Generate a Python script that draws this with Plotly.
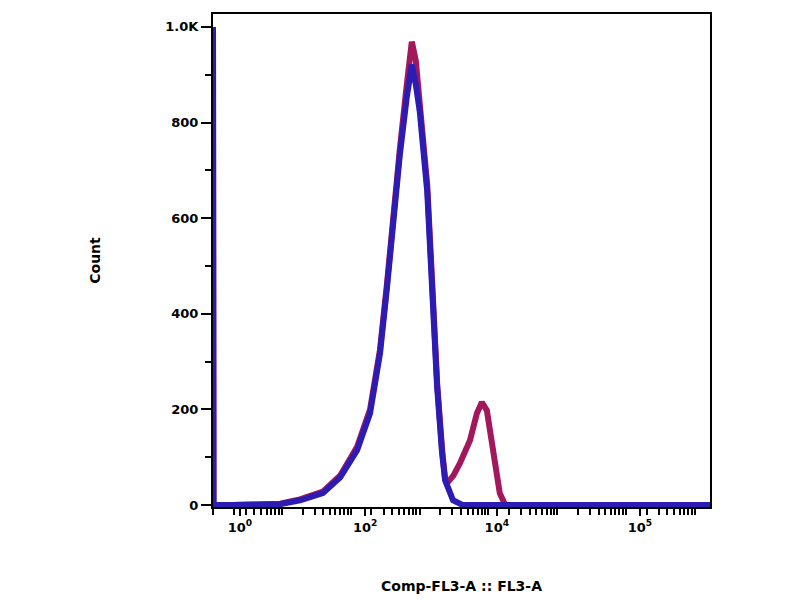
import numpy as np
import plotly.graph_objects as go

# Histogram data (display channel units 0-1000 on a log-like axis, counts)
red_channel = [0, 1, 40, 95, 135, 175, 221, 256, 290, 316, 336, 350, 362, 376, 390, 400, 408, 416, 431, 441, 451, 461, 467, 471, 484, 497, 517, 531, 541, 551, 563, 577, 588, 650, 1000]
red_count   = [1000, 0, 0, 0, 3, 12, 28, 62, 122, 200, 325, 462, 604, 745, 880, 969, 930, 840, 670, 465, 255, 115, 55, 46, 62, 88, 135, 192, 215, 198, 108, 25, 0, 0, 0]

blue_channel = [0, 1, 40, 95, 135, 175, 221, 256, 290, 316, 336, 350, 362, 376, 390, 400, 408, 416, 431, 441, 451, 461, 467, 483, 503, 600, 1000]
blue_count   = [1000, 0, 0, 0, 2, 10, 25, 58, 115, 192, 317, 454, 594, 733, 854, 921, 880, 823, 656, 454, 246, 108, 52, 10, 0, 0, 0]

x_label_pos = [54, 306, 571, 859]
x_label_text = ["10<sup>0</sup>", "10<sup>2</sup>", "10<sup>4</sup>", "10<sup>5</sup>"]
y_tick_vals = [0, 200, 400, 600, 800, 1000]
y_tick_text = ["0", "200", "400", "600", "800", "1.0K"]

# tick layout for log-like axis
decade = 138.5
minor_ticks = [k * decade + np.log10(m) * decade for k in range(8) for m in range(1, 10)
               if k * decade + np.log10(m) * decade < 1000]

fig = go.Figure()
fig.add_trace(go.Scatter(x=red_channel, y=red_count, mode="lines",
                         line=dict(color="#a3185c", width=6),
                         showlegend=False))
fig.add_trace(go.Scatter(x=blue_channel, y=blue_count, mode="lines",
                         line=dict(color="#2d1cb4", width=6),
                         showlegend=False))

font = dict(family="DejaVu Sans", size=13, color="black", weight="bold")
title_font = dict(family="DejaVu Sans", size=14, color="black", weight="bold")

fig.update_layout(
    width=800, height=600,
    margin=dict(l=205, r=98, t=4, b=101),
    paper_bgcolor="white", plot_bgcolor="white",
    xaxis=dict(range=[0, 1000], showgrid=False, zeroline=False,
               showline=True, linecolor="black", linewidth=2, mirror=True,
               tickmode="array", tickvals=x_label_pos, ticktext=x_label_text,
               ticks="outside", ticklen=7, tickwidth=2, tickcolor="black",
               tickfont=font,
               minor=dict(tickmode="array", tickvals=minor_ticks, ticks="outside",
                          ticklen=6, tickwidth=2, tickcolor="black", showgrid=False),
               title=dict(text="Comp-FL3-A :: FL3-A", font=title_font, standoff=48)),
    yaxis=dict(range=[-4, 1027], showgrid=False, zeroline=False,
               showline=True, linecolor="black", linewidth=2, mirror=True,
               tickmode="array", tickvals=y_tick_vals, ticktext=y_tick_text,
               ticks="outside", ticklen=10, tickwidth=2, tickcolor="black",
               tickfont=font,
               minor=dict(dtick=100, ticks="outside", ticklen=6, tickwidth=2,
                          tickcolor="black", showgrid=False),
               title=dict(text="Count", font=title_font, standoff=61)),
)

fig.write_html("out.html")
